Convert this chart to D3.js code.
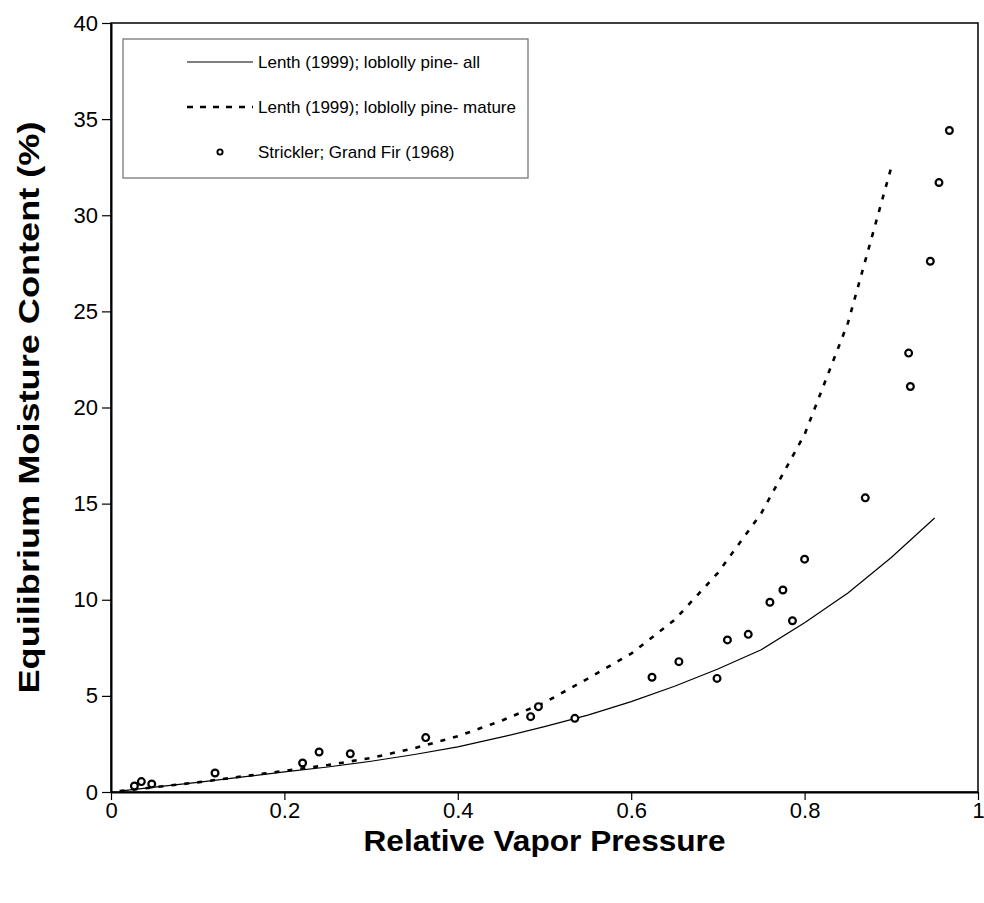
<!DOCTYPE html>
<html>
<head>
<meta charset="utf-8">
<script src="https://cdn.jsdelivr.net/npm/d3@7"></script>
<style>
  html, body { margin: 0; padding: 0; background: #fff; }
  svg text { font-family: "Liberation Sans", Arial, Helvetica, sans-serif; fill: #000; }
</style>
</head>
<body>
<svg id="chart" width="984" height="903"></svg>
<script>
// Lenth (1999) loblolly pine sorption curve, all wood
const allX = [0.01, 0.05, 0.10, 0.15, 0.20, 0.25, 0.30, 0.35, 0.40, 0.45, 0.50, 0.55, 0.60, 0.65, 0.70, 0.75, 0.80, 0.85, 0.90, 0.95];
const allY = [0.05, 0.25, 0.50, 0.77, 1.05, 1.30, 1.60, 1.95, 2.35, 2.85, 3.40, 4.00, 4.70, 5.50, 6.40, 7.40, 8.80, 10.35, 12.20, 14.25];

// Lenth (1999) loblolly pine sorption curve, mature wood
const matureX = [0.01, 0.05, 0.10, 0.15, 0.20, 0.25, 0.30, 0.35, 0.40, 0.45, 0.50, 0.55, 0.60, 0.65, 0.70, 0.75, 0.80, 0.85, 0.90];
const matureY = [0.05, 0.25, 0.50, 0.80, 1.10, 1.40, 1.77, 2.28, 2.90, 3.70, 4.65, 5.90, 7.20, 8.95, 11.40, 14.50, 18.60, 24.40, 32.50];

// Strickler (1968) grand fir measurements
const firX = [0.027, 0.035, 0.047, 0.120, 0.221, 0.240, 0.276, 0.363, 0.484, 0.493, 0.535, 0.624, 0.655, 0.699, 0.711, 0.735, 0.760, 0.775, 0.786, 0.800, 0.870, 0.920, 0.922, 0.945, 0.955, 0.967];
const firY = [0.31, 0.54, 0.42, 0.99, 1.51, 2.08, 1.99, 2.83, 3.92, 4.44, 3.83, 5.97, 6.78, 5.91, 7.91, 8.20, 9.87, 10.51, 8.91, 12.11, 15.30, 22.83, 21.09, 27.61, 31.70, 34.41];

const xTicks = [0, 0.2, 0.4, 0.6, 0.8, 1];
const yTicks = [0, 5, 10, 15, 20, 25, 30, 35, 40];

const legendLabels = [
  "Lenth (1999); loblolly pine- all",
  "Lenth (1999); loblolly pine- mature",
  "Strickler; Grand Fir (1968)"
];
const xTitle = "Relative Vapor Pressure";
const yTitle = "Equilibrium Moisture Content (%)";

const svg = d3.select("#chart");
const plotLeft = 111, plotRight = 978, plotTop = 23, plotBottom = 792;

const x = d3.scaleLinear().domain([0, 1]).range([plotLeft, plotRight]);
const y = d3.scaleLinear().domain([0, 40]).range([plotBottom, plotTop]);

// plot frame
svg.append("rect")
  .attr("x", plotLeft).attr("y", plotTop)
  .attr("width", plotRight - plotLeft).attr("height", plotBottom - plotTop)
  .attr("fill", "none").attr("stroke", "#000").attr("stroke-width", 1.5);

// axes
const yAxis = svg.append("g")
  .attr("transform", `translate(${plotLeft},0)`)
  .call(d3.axisLeft(y).tickValues(yTicks).tickSize(9).tickSizeOuter(0).tickPadding(4).tickFormat(d3.format("d")));
const xAxis = svg.append("g")
  .attr("transform", `translate(0,${plotBottom})`)
  .call(d3.axisBottom(x).tickValues(xTicks).tickSize(8).tickSizeOuter(0).tickPadding(2).tickFormat(d => d === 0 || d === 1 ? d3.format("d")(d) : d3.format(".1f")(d)));
[yAxis, xAxis].forEach(g => {
  g.select(".domain").attr("stroke", "#000").attr("stroke-width", 2);
  g.selectAll(".tick line").attr("stroke", "#000").attr("stroke-width", 1.2);
  g.selectAll(".tick text")
    .style("font-family", "'Liberation Sans', Arial, sans-serif")
    .style("font-size", "22px").attr("fill", "#000");
});

// curves
const lineGen = d3.line().x(d => x(d[0])).y(d => y(d[1]));
const allPts = allX.map((v, i) => [v, allY[i]]);
const maturePts = matureX.map((v, i) => [v, matureY[i]]);

svg.append("path").datum(allPts)
  .attr("d", lineGen).attr("fill", "none")
  .attr("stroke", "#000").attr("stroke-width", 1.2);

svg.append("path").datum(maturePts)
  .attr("d", lineGen).attr("fill", "none")
  .attr("stroke", "#000").attr("stroke-width", 2.6)
  .attr("stroke-dasharray", "5,8");

// measured points
svg.append("g").selectAll("circle")
  .data(firX.map((v, i) => [v, firY[i]]))
  .join("circle")
  .attr("cx", d => x(d[0])).attr("cy", d => y(d[1]))
  .attr("r", 3.4).attr("fill", "#fff")
  .attr("stroke", "#000").attr("stroke-width", 2.2);

// legend
const lg = svg.append("g");
lg.append("rect")
  .attr("x", 123).attr("y", 39).attr("width", 405).attr("height", 139)
  .attr("fill", "#fff").attr("stroke", "#777").attr("stroke-width", 1.3);
const rowY = [62, 107, 152];
lg.append("line").attr("x1", 187).attr("x2", 253).attr("y1", rowY[0]).attr("y2", rowY[0])
  .attr("stroke", "#000").attr("stroke-width", 1.2);
lg.append("line").attr("x1", 187).attr("x2", 253).attr("y1", rowY[1]).attr("y2", rowY[1])
  .attr("stroke", "#000").attr("stroke-width", 2.6).attr("stroke-dasharray", "6,7");
lg.append("circle").attr("cx", 220).attr("cy", rowY[2]).attr("r", 2.6)
  .attr("fill", "#fff").attr("stroke", "#000").attr("stroke-width", 1.9);
lg.selectAll("text.lbl").data(legendLabels).join("text")
  .attr("class", "lbl")
  .attr("x", 258).attr("y", (d, i) => rowY[i] + 6)
  .style("font-size", "17px")
  .text(d => d);

// axis titles
svg.append("text")
  .attr("x", (plotLeft + plotRight) / 2).attr("y", 851)
  .attr("text-anchor", "middle")
  .attr("textLength", 362).attr("lengthAdjust", "spacingAndGlyphs")
  .style("font-size", "30px").style("font-weight", "bold")
  .text(xTitle);
svg.append("text")
  .attr("transform", `translate(39,${(plotTop + plotBottom) / 2}) rotate(-90)`)
  .attr("text-anchor", "middle")
  .attr("textLength", 572).attr("lengthAdjust", "spacingAndGlyphs")
  .style("font-size", "30px").style("font-weight", "bold")
  .text(yTitle);
</script>
</body>
</html>
